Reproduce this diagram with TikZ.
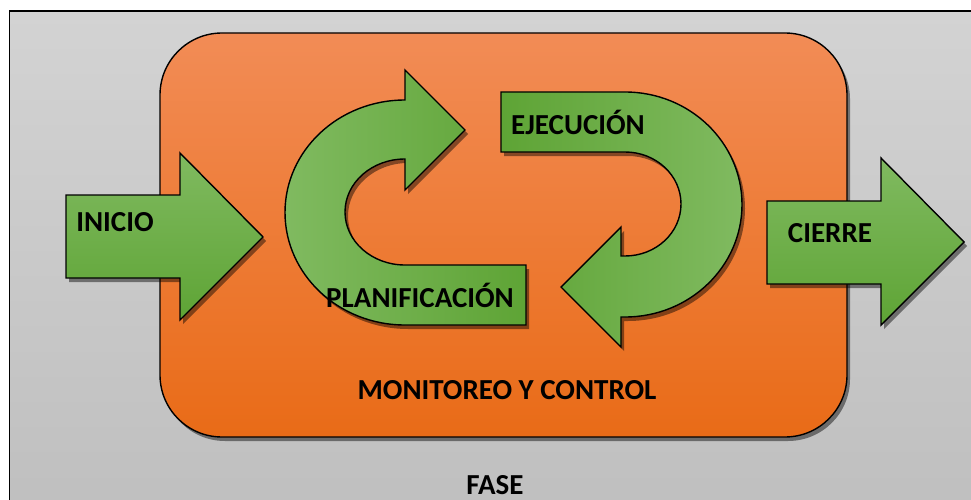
\documentclass[tikz,border=0pt]{standalone}
\usepackage{fontspec}
\setmainfont{Carlito}
\usetikzlibrary{shadows}
\definecolor{grayTop}{HTML}{D3D3D3}
\definecolor{grayBot}{HTML}{BFBFBF}
\definecolor{orTop}{HTML}{F28C56}
\definecolor{orBot}{HTML}{E96B17}
\definecolor{grLight}{HTML}{80BA60}
\definecolor{grDark}{HTML}{5EA435}
\tikzset{
  shape line/.style={draw=black, line width=1.4pt, line join=miter},
  shad/.style={drop shadow={shadow xshift=3pt, shadow yshift=-4pt, opacity=0.45, fill=black}},
  garrowv/.style={shape line, shad, top color=grLight, bottom color=grDark},
  lbl/.style={font=\bfseries\fontsize{29}{33}\selectfont, text=black, inner sep=0pt}
}
\begin{document}
\begin{tikzpicture}[x=1pt,y=1pt]
\useasboundingbox (0,0) rectangle (971,-500);
% background frame
\draw[line width=1.2pt, top color=grayTop, bottom color=grayBot] (9.5,-11) rectangle (985,-515);
% orange rounded box
\draw[shape line, shad, rounded corners=62pt, top color=orTop, bottom color=orBot]
  (160,-33) rectangle (847,-437);
% INICIO arrow
\draw[garrowv] (66,-195) -- (180,-195) -- (180,-153) -- (263,-237) -- (180,-320) -- (180,-278) -- (66,-278) -- cycle;
% CIERRE arrow
\draw[garrowv] (767,-201) -- (881,-201) -- (881,-158) -- (964,-242) -- (881,-325) -- (881,-284) -- (767,-284) -- cycle;
% PLANIFICACION arrow
\draw[shape line, shad, left color=grLight, right color=grDark]
  (526,-325) -- (405,-325)
  arc[start angle=270, end angle=90, x radius=120pt, y radius=112.5pt]
  -- (405,-70) -- (465,-130) -- (405,-190) -- (405,-159)
  arc[start angle=90, end angle=270, x radius=60pt, y radius=53pt]
  -- (526,-265) -- cycle;
% EJECUCION arrow
\draw[shape line, shad, left color=grDark, right color=grLight]
  (501,-92) -- (625,-92)
  arc[start angle=90, end angle=-90, x radius=117pt, y radius=112.5pt]
  -- (621,-317) -- (621,-347) -- (561,-287) -- (621,-227) -- (621,-256) -- (625,-256)
  arc[start angle=-90, end angle=90, x radius=56pt, y radius=52pt]
  -- (501,-152) -- cycle;
% labels
\node[lbl] (inicio) at (115,-222) {INICIO};
\node[lbl] (cierre) at (830,-233) {CIERRE};
\node[lbl] (planif) at (420,-295) {PLANIFICACIÓN};
\node[lbl] (ejec) at (578,-122) {EJECUCIÓN};
\node[lbl] (monit) at (507,-390) {MONITOREO Y CONTROL};
\node[lbl] (fase) at (495,-485) {FASE};
\end{tikzpicture}
\end{document}
